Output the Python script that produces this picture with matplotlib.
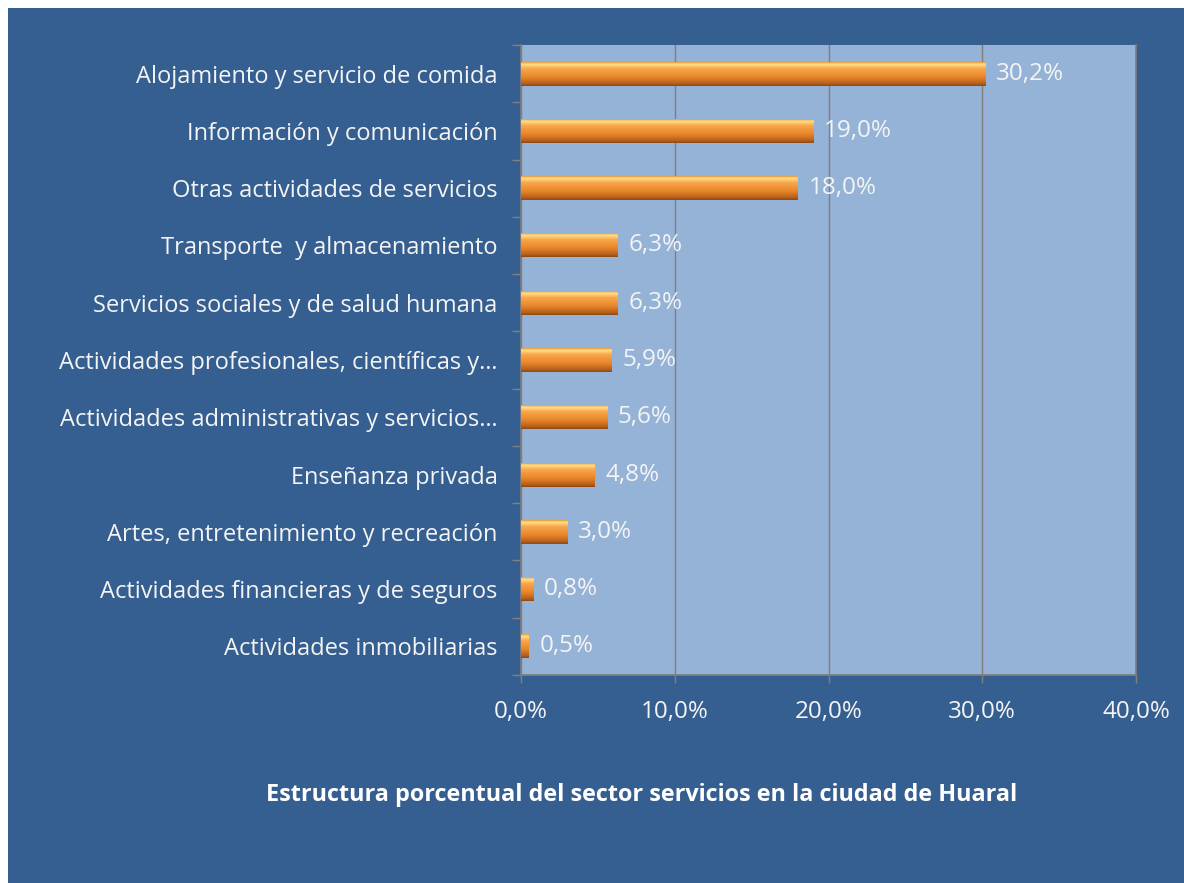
import numpy as np
import matplotlib
matplotlib.use("Agg")
import matplotlib.pyplot as plt
from matplotlib.patches import Rectangle
from matplotlib.colors import LinearSegmentedColormap

# Data
categories = [
    "Alojamiento y servicio de comida",
    "Información y comunicación",
    "Otras actividades de servicios",
    "Transporte  y almacenamiento",
    "Servicios sociales y de salud humana",
    "Actividades profesionales, científicas y…",
    "Actividades administrativas y servicios…",
    "Enseñanza privada",
    "Artes, entretenimiento y recreación",
    "Actividades financieras y de seguros",
    "Actividades inmobiliarias",
]
values = [30.2, 19.0, 18.0, 6.3, 6.3, 5.9, 5.6, 4.8, 3.0, 0.8, 0.5]
x_ticks = [0, 10, 20, 30, 40]
title = "Estructura porcentual del sector servicios en la ciudad de Huaral"

BG = "#365F91"
PLOT_BG = "#95B3D7"
GRID = "#7F7F7F"
TXT = "#F4F4F4"
FONT = "Open Sans"

W, H = 1184, 883
fig = plt.figure(figsize=(W / 100, H / 100), dpi=100, facecolor="white")
fig.patches.append(Rectangle((8 / W, 0), 1, 1 - 8 / H, transform=fig.transFigure,
                             facecolor=BG, edgecolor="none", zorder=-10))

ax = fig.add_axes([521 / W, 1 - 675 / H, (1136 - 521) / W, (675 - 45) / H])
ax.set_facecolor(PLOT_BG)

n = len(categories)
y = np.arange(n)
bar_h = 0.42
bars = ax.barh(y, values, height=bar_h, color="#F79646", edgecolor="none", zorder=2)

# cylinder-like vertical gradient on each bar
cmap = LinearSegmentedColormap.from_list(
    "cyl", [(0.0, "#D97A1E"), (0.12, "#FFE08A"), (0.3, "#F9A64A"),
            (0.65, "#E8852A"), (0.9, "#B8601A"), (1.0, "#8C4A16")])
grad = np.linspace(0, 1, 64).reshape(-1, 1)
for b in bars:
    x0, yb = b.get_x(), b.get_y()
    im = ax.imshow(grad, cmap=cmap, aspect="auto", zorder=3,
                   extent=(x0, x0 + b.get_width(), yb + b.get_height(), yb),
                   interpolation="bilinear")
    im.set_clip_path(b)

for yi, v in zip(y, values):
    ax.text(v + 0.7, yi, f"{v:.1f}%".replace(".", ","), va="center", ha="left",
            color=TXT, fontsize=17.5, family=FONT, zorder=4)

ax.set_xlim(0, 40)
ax.set_ylim(n - 0.5, -0.5)
ax.set_xticks(x_ticks)
ax.set_xticklabels([f"{t:.1f}%".replace(".", ",") for t in x_ticks])
ax.set_yticks(y)
ax.set_yticklabels(categories)
ax.set_yticks(np.arange(n + 1) - 0.5, minor=True)
ax.tick_params(axis="y", which="major", length=0, pad=17, labelcolor=TXT, labelsize=17)
ax.tick_params(axis="y", which="minor", length=6.5, color=GRID, width=1)
ax.tick_params(axis="x", length=6, color=GRID, width=1, pad=12, labelcolor=TXT, labelsize=17.4)
for lab in ax.get_xticklabels() + ax.get_yticklabels():
    lab.set_family(FONT)

ax.grid(axis="x", color=GRID, linewidth=1, zorder=1)
ax.set_axisbelow(True)
for s in ["left", "bottom", "right"]:
    ax.spines[s].set_color(GRID)
    ax.spines[s].set_linewidth(1.2)
ax.spines["top"].set_visible(False)

fig.text(642 / W, 1 - 795 / H, title, ha="center", va="center", color="white",
         fontsize=16.8, fontweight="bold", family=FONT)

fig.savefig("out.png", dpi=100, facecolor=fig.get_facecolor())
